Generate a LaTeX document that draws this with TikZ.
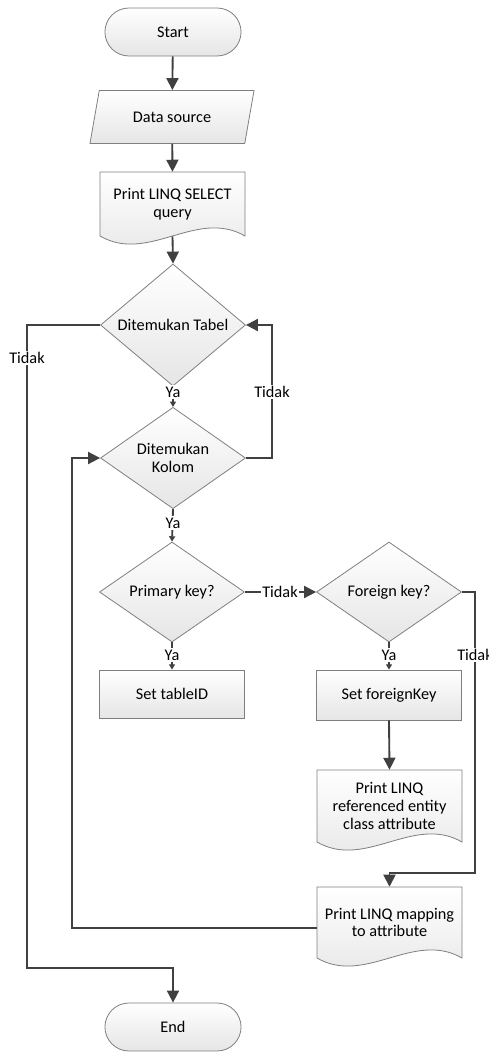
\documentclass[tikz,border=0pt]{standalone}
\usepackage{fontspec}
\setmainfont{Carlito}
\usetikzlibrary{shapes.geometric,shapes.misc,arrows.meta}

\definecolor{flowline}{HTML}{404040}
\definecolor{shapeline}{HTML}{7F7F7F}

\tikzset{
	shapebase/.style={draw=shapeline,line width=0.6pt,top color=white,bottom color=black!10,align=center},
	terminal/.style={shapebase,rounded rectangle,minimum width=108.75pt,minimum height=36pt},
	io/.style={shapebase,trapezium,trapezium left angle=74,trapezium right angle=106,trapezium stretches=true,minimum width=123.75pt,minimum height=39.75pt},
	decision/.style={shapebase,diamond,minimum width=108.75pt,minimum height=75pt,inner sep=0pt},
	process/.style={shapebase,rectangle,minimum width=108.75pt,minimum height=36pt},
	flow/.style={draw=flowline,line width=1.4pt,-{Triangle[length=9pt,width=9pt]}},
	flowsmall/.style={draw=flowline,line width=1.4pt,-{Triangle[length=4pt,width=4.5pt]}},
	lbl/.style={fill=white,inner sep=1pt}
}

% document shape: name, centre x, top y, side height, text
\newcommand{\docshape}[5]{
	\shade[draw=shapeline,line width=0.6pt,top color=white,bottom color=black!10]
		(#2-72.5,#3) -- (#2+72.5,#3) -- (#2+72.5,#3+#4)
		.. controls (#2+24,#3+#4-28) and (#2-24,#3+#4+28) .. (#2-72.5,#3+#4) -- cycle;
	\node[align=center,minimum width=108.75pt,minimum height=#4*0.75pt,inner sep=0pt] (#1) at (#2,#3+#4/2) {#5};
}

\begin{document}
\begin{tikzpicture}[x=0.75pt,y=-0.75pt,font=\fontsize{12.2}{13.4}\selectfont]
	\useasboundingbox (0,0) rectangle (489,1053);

	\node[terminal] (start) at (173,32) {Start};
	\node[io] (source) at (172,117) {Data source};
	\docshape{select}{172.5}{172}{64}{Print LINQ SELECT\\query}
	\node[decision] (tabel) at (173,325) {Ditemukan Tabel};
	\node[decision] (kolom) at (173,458) {Ditemukan\\Kolom};
	\node[decision] (primary) at (172,592) {Primary key?};
	\node[decision] (foreign) at (389,592) {Foreign key?};
	\node[process] (tableid) at (172,694) {Set tableID};
	\node[process,minimum height=37.5pt] (fkey) at (389,695) {Set foreignKey};
	\docshape{refattr}{389.5}{770}{72}{Print LINQ\\referenced entity\\class attribute}
	\docshape{mapattr}{389.5}{887}{71}{Print LINQ mapping\\to attribute}
	\node[terminal] (end) at (173,1027) {End};

	% bends
	\coordinate (tabelout) at (27,968);
	\coordinate (kolomout) at (272,458);
	\coordinate (foreignout) at (475,873);
	\coordinate (loopback) at (72,928);

	% connectors
	\draw[flow] (start) -- (source);
	\draw[flow] (source) -- (select.north);
	\draw[flow] (select.south) -- (tabel.north);
	\draw[flow] (tabel.west) -| (tabelout) -| (end.north);
	\draw[flowsmall] (tabel.south) -- (kolom.north);
	\draw[flow] (kolom.east) -- (kolomout) |- (tabel.east);
	\draw[flowsmall] (kolom.south) -- (primary.north);
	\draw[flow] (primary.east) -- (foreign.west);
	\draw[flowsmall] (primary.south) -- (tableid.north);
	\draw[flowsmall] (foreign.south) -- (fkey.north);
	\draw[flow] (fkey.south) -- (refattr.north);
	\draw[flow] (foreign.east) -| (foreignout) -| (mapattr.north);
	\draw[flow] (mapattr.west |- loopback) -- (loopback) |- (kolom.west);

	% labels
	\node[lbl] (tabelno) at (27,358) {Tidak};
	\node[lbl] (tabelyes) at (173,392) {Ya};
	\node[lbl] (kolomno) at (272,392) {Tidak};
	\node[lbl] (kolomyes) at (173,523) {Ya};
	\node[lbl] (primaryno) at (280,592) {Tidak};
	\node[lbl] (primaryyes) at (172,655) {Ya};
	\node[lbl] (foreignyes) at (389,655) {Ya};
	\node[lbl] (foreignno) at (475,655) {Tidak};
\end{tikzpicture}
\end{document}
